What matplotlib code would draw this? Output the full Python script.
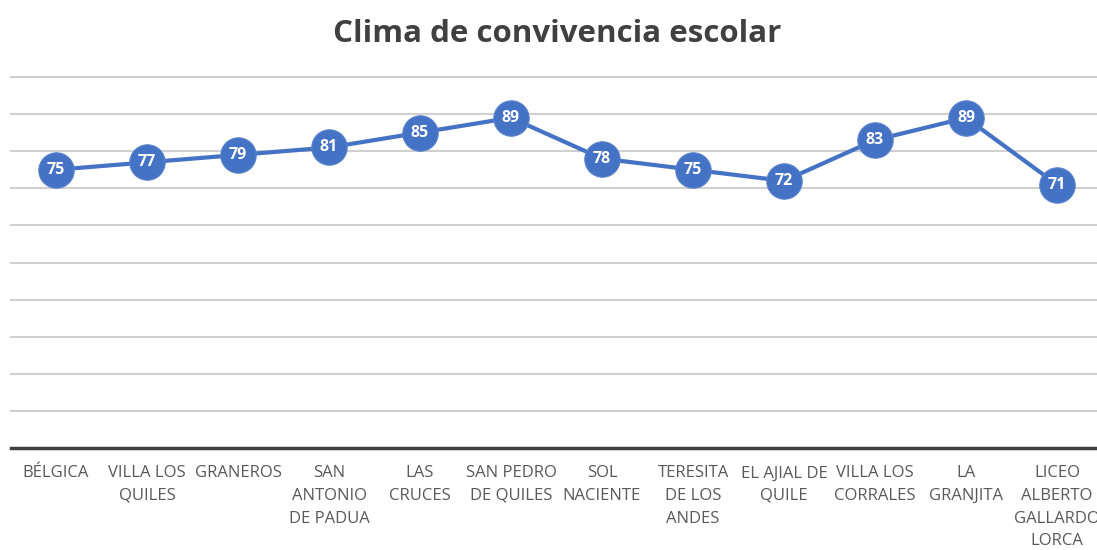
import matplotlib.pyplot as plt
import numpy as np

escuelas = ['BÉLGICA', 'VILLA LOS\nQUILES', 'GRANEROS', 'SAN\nANTONIO\nDE PADUA',
            'LAS\nCRUCES', 'SAN PEDRO\nDE QUILES', 'SOL\nNACIENTE', 'TERESITA\nDE LOS\nANDES',
            'EL AJIAL DE\nQUILE', 'VILLA LOS\nCORRALES', 'LA\nGRANJITA', 'LICEO\nALBERTO\nGALLARDO\nLORCA']
puntajes = [75, 77, 79, 81, 85, 89, 78, 75, 72, 83, 89, 71]

azul = '#4472C4'
plt.rcParams['font.family'] = ['Open Sans', 'DejaVu Sans']

fig = plt.figure(figsize=(10.97, 5.5), dpi=100)
ax = fig.add_axes([10.5 / 1097, 102 / 550, 1092 / 1097, 371 / 550])

x = np.arange(len(escuelas))
ax.plot(x, puntajes, color=azul, linewidth=3, marker='o', markersize=25.5,
        markeredgecolor='#5B84CC', markeredgewidth=0.8, zorder=3, clip_on=False)

# etiquetas de datos dentro de los circulos
for xi, v in zip(x, puntajes):
    ax.text(xi, v, str(v), ha='center', va='center', color='white',
            fontsize=11.5, fontweight='bold', zorder=4)

ax.set_xlim(-0.5, len(escuelas) - 0.5)
ax.set_ylim(0, 100)
ax.set_yticks(np.arange(10, 101, 10))
ax.yaxis.grid(True, color='#D0D0D0', linewidth=1.5)
ax.set_axisbelow(True)
ax.tick_params(axis='y', left=False, labelleft=False)
ax.tick_params(axis='x', bottom=False, pad=9)
for g in ax.get_ygridlines():
    g.set_clip_on(False)

ax.set_xticks(x)
ax.set_xticklabels(escuelas, fontsize=12, color='#595959', linespacing=1.55)

for s in ['top', 'right', 'left']:
    ax.spines[s].set_visible(False)
ax.spines['bottom'].set_color('#404040')
ax.spines['bottom'].set_linewidth(2.5)

fig.text(557 / 1097, 1 - 34 / 550, 'Clima de convivencia escolar', ha='center', va='center',
         fontsize=22.5, fontweight='bold', color='#404040')

fig.savefig('out.png', dpi=100)
